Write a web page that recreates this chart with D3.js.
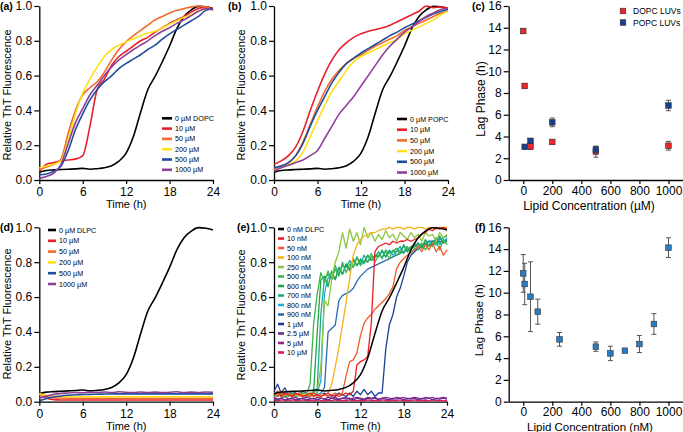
<!DOCTYPE html>
<html><head><meta charset="utf-8">
<script src="https://cdn.jsdelivr.net/npm/d3@7"></script>
<style>
body{margin:0;background:#fff}
text{font-family:Arial,"Liberation Sans",Helvetica,sans-serif;fill:#000}
</style>
</head><body>
<svg id="chart" width="683" height="432"></svg>
<script>
// ---------------- DATA ----------------
const hours = [0,1,2,3,4,5,6,7,8,9,10,11,12,13,14,15,16,17,18,19,20,21,22,23,24];
const halfHours = [0,0.5,1,1.5,2,2.5,3,3.5,4,4.5,5,5.5,6,6.5,7,7.5,8,8.5,9,9.5,10,10.5,11,11.5,12,12.5,13,13.5,14,14.5,15,15.5,16,16.5,17,17.5,18,18.5,19,19.5,20,20.5,21,21.5,22,22.5,23,23.5,24];
const timeTicks = [0,6,12,18,24];
const fluorTicks = [0,0.2,0.4,0.6,0.8,1.0];
const lagTicks = [0,2,4,6,8,10,12,14,16];
const concTicks = [0,200,400,600,800,1000];

// control (no lipid), shared by all ThT panels
const control = [0.045,0.055,0.058,0.06,0.062,0.064,0.067,0.062,0.065,0.07,0.082,0.108,0.155,0.25,0.39,0.52,0.595,0.68,0.77,0.87,0.94,0.978,0.998,0.995,0.985];

// (a) DOPC
const dopcLabels = ["0 µM DOPC","10 µM","50 µM","200 µM","500 µM","1000 µM"];
const dopc10   = [0.05,0.09,0.10,0.11,0.115,0.12,0.14,0.31,0.52,0.58,0.66,0.71,0.74,0.77,0.80,0.82,0.85,0.875,0.90,0.92,0.94,0.965,0.985,0.995,0.98];
const dopc50   = [0.06,0.075,0.09,0.12,0.27,0.40,0.49,0.53,0.565,0.62,0.69,0.75,0.795,0.83,0.86,0.89,0.92,0.94,0.96,0.975,0.985,0.995,1.0,0.995,0.975];
const dopc200  = [0.07,0.08,0.09,0.11,0.23,0.38,0.50,0.58,0.65,0.71,0.75,0.775,0.795,0.81,0.83,0.845,0.855,0.875,0.895,0.915,0.935,0.95,0.97,0.98,0.985];
const dopc500  = [0.03,0.035,0.05,0.08,0.17,0.29,0.38,0.46,0.52,0.565,0.60,0.64,0.67,0.695,0.72,0.75,0.775,0.81,0.84,0.865,0.89,0.915,0.94,0.975,0.985];
const dopc1000 = [0.01,0.02,0.04,0.09,0.21,0.33,0.41,0.49,0.545,0.60,0.65,0.69,0.72,0.75,0.775,0.80,0.83,0.855,0.875,0.90,0.92,0.945,0.97,0.985,0.98];

// (b) POPC
const popcLabels = ["0 µM POPC","10 µM","50 µM","200 µM","500 µM","1000 µM"];
const popc10   = [0.09,0.11,0.14,0.19,0.28,0.40,0.51,0.61,0.69,0.75,0.79,0.82,0.84,0.855,0.865,0.875,0.89,0.91,0.93,0.95,0.97,1.0,0.99,0.995,0.985];
const popc50   = [0.06,0.08,0.10,0.14,0.22,0.32,0.42,0.51,0.58,0.63,0.67,0.70,0.72,0.745,0.77,0.79,0.81,0.83,0.86,0.88,0.90,0.92,0.94,0.96,0.97];
const popc200  = [0.07,0.08,0.09,0.11,0.16,0.25,0.34,0.43,0.51,0.57,0.63,0.68,0.71,0.73,0.75,0.77,0.79,0.81,0.84,0.86,0.88,0.90,0.92,0.95,0.97];
const popc500  = [0.07,0.08,0.10,0.14,0.21,0.31,0.40,0.48,0.56,0.62,0.67,0.70,0.73,0.755,0.78,0.805,0.83,0.85,0.875,0.895,0.915,0.935,0.955,0.97,0.98];
const popc1000 = [0.05,0.07,0.085,0.10,0.115,0.14,0.17,0.24,0.31,0.38,0.43,0.48,0.54,0.60,0.66,0.72,0.77,0.81,0.85,0.88,0.91,0.94,0.96,0.98,0.985];

// (c) lag phase vs DOPC / POPC LUVs (µM)
const dopcConc = [0,10,50,200,500,1000];
const dopcLag  = [13.7,8.65,3.1,3.5,2.6,3.15];
const dopcErr  = [0.2,0.2,0.3,0.2,0.5,0.4];
const popcConc = [10,50,200,500,1000];
const popcLag  = [3.05,3.6,5.3,2.8,6.85];
const popcErr  = [0.2,0.2,0.4,0.3,0.48];

// (d) DLPC µM
const dlpcLabels = ["0 µM DLPC","10 µM","50 µM","200 µM","500 µM","1000 µM"];
const dlpc10   = [0.05,0.02,0.012,0.01,0.01,0.01,0.01,0.01,0.01,0.01,0.01,0.01,0.01,0.01,0.01,0.01,0.01,0.01,0.01,0.01,0.01,0.01,0.01,0.01,0.01];
const dlpc50   = [0.04,0.028,0.023,0.021,0.02,0.02,0.02,0.02,0.02,0.02,0.02,0.02,0.02,0.02,0.02,0.02,0.02,0.02,0.02,0.02,0.02,0.02,0.02,0.02,0.02];
const dlpc200  = [0.045,0.036,0.032,0.03,0.029,0.028,0.028,0.028,0.028,0.028,0.028,0.028,0.028,0.028,0.028,0.028,0.028,0.028,0.028,0.028,0.028,0.028,0.028,0.028,0.028];
const dlpc500  = [0.005,0.018,0.027,0.033,0.037,0.04,0.041,0.042,0.043,0.044,0.045,0.045,0.045,0.045,0.045,0.045,0.045,0.045,0.045,0.045,0.045,0.045,0.045,0.045,0.045];
const dlpc1000 = [0.02,0.032,0.042,0.048,0.05,0.053,0.051,0.055,0.053,0.056,0.052,0.057,0.054,0.053,0.056,0.052,0.055,0.053,0.054,0.057,0.052,0.055,0.053,0.056,0.054];

// (e) DLPC nM (half-hour sampling)
const nmLabels = ["0 nM DLPC","10 nM","50 nM","100 nM","250 nM","500 nM","600 nM","700 nM","800 nM","900 nM","1 µM","2.5 µM","5 µM","10 µM"];
const nm10   = [0.04,0.06,0.03,0.05,0.04,0.03,0.05,0.04,0.03,0.04,0.05,0.03,0.04,0.03,0.04,0.05,0.03,0.04,0.03,0.04,0.05,0.04,0.06,0.21,0.23,0.24,0.26,0.45,0.86,0.89,0.90,0.91,0.90,0.92,0.91,0.92,0.92,0.93,0.92,0.93,0.94,0.96,0.97,0.99,0.98,1.0,0.99,1.0,0.99];
const nm50   = [0.05,0.03,0.06,0.04,0.05,0.03,0.04,0.05,0.03,0.04,0.03,0.05,0.04,0.03,0.04,0.03,0.04,0.05,0.04,0.05,0.15,0.23,0.24,0.28,0.38,0.45,0.48,0.50,0.53,0.55,0.57,0.59,0.62,0.66,0.76,0.80,0.82,0.84,0.86,0.87,0.89,0.86,0.90,0.87,0.91,0.86,0.89,0.84,0.87];
const nm100  = [0.04,0.05,0.03,0.04,0.04,0.03,0.04,0.03,0.04,0.04,0.03,0.04,0.03,0.04,0.04,0.05,0.10,0.20,0.31,0.44,0.57,0.71,0.84,0.90,0.93,0.95,0.96,0.97,0.97,0.98,0.99,0.99,1.0,0.99,1.0,1.0,0.99,1.0,1.0,0.99,1.0,1.0,0.99,1.0,1.0,0.99,1.0,1.0,1.0];
const nm250  = [0.05,0.04,0.06,0.04,0.05,0.03,0.04,0.05,0.04,0.05,0.04,0.05,0.06,0.20,0.58,0.55,0.70,0.80,0.86,0.97,0.88,0.99,0.92,0.97,0.90,1.0,0.94,0.97,0.92,0.96,0.93,0.98,0.94,0.96,0.92,0.97,0.95,0.93,0.97,0.94,0.96,0.92,0.97,0.95,0.96,0.92,0.97,0.94,0.96];
const nm500  = [0.03,0.05,0.03,0.04,0.03,0.05,0.03,0.04,0.05,0.04,0.10,0.45,0.62,0.74,0.68,0.75,0.70,0.76,0.72,0.80,0.74,0.79,0.77,0.83,0.78,0.81,0.80,0.85,0.80,0.84,0.83,0.86,0.82,0.87,0.84,0.86,0.86,0.89,0.85,0.88,0.88,0.91,0.87,0.90,0.89,0.92,0.87,0.93,0.90];
const nm600  = [0.04,0.03,0.05,0.03,0.04,0.04,0.03,0.05,0.04,0.03,0.04,0.06,0.40,0.70,0.72,0.66,0.75,0.70,0.77,0.73,0.79,0.76,0.82,0.78,0.81,0.80,0.84,0.81,0.84,0.83,0.87,0.83,0.86,0.86,0.88,0.85,0.90,0.86,0.89,0.89,0.91,0.88,0.93,0.89,0.92,0.91,0.95,0.91,0.93];
const nm700  = [0.03,0.05,0.04,0.03,0.05,0.04,0.03,0.04,0.05,0.03,0.04,0.05,0.08,0.50,0.71,0.73,0.70,0.78,0.73,0.78,0.77,0.81,0.77,0.83,0.79,0.84,0.80,0.83,0.83,0.86,0.82,0.87,0.85,0.86,0.86,0.89,0.85,0.88,0.88,0.91,0.87,0.90,0.90,0.92,0.89,0.94,0.90,0.93,0.92];
const nm800  = [0.04,0.03,0.05,0.04,0.03,0.05,0.04,0.03,0.04,0.05,0.03,0.04,0.05,0.12,0.62,0.71,0.72,0.70,0.77,0.73,0.79,0.75,0.81,0.78,0.82,0.79,0.84,0.81,0.83,0.84,0.86,0.83,0.87,0.84,0.86,0.87,0.89,0.86,0.88,0.89,0.91,0.88,0.90,0.92,0.91,0.90,0.94,0.91,0.94];
const nm900  = [0.05,0.04,0.03,0.05,0.04,0.03,0.04,0.05,0.04,0.03,0.04,0.05,0.04,0.05,0.08,0.40,0.42,0.44,0.58,0.61,0.62,0.63,0.65,0.69,0.72,0.74,0.76,0.77,0.78,0.79,0.80,0.81,0.82,0.83,0.84,0.85,0.86,0.87,0.88,0.89,0.90,0.90,0.91,0.92,0.92,0.93,0.93,0.94,0.95];
const nm1000 = [0.06,0.10,0.05,0.08,0.04,0.06,0.05,0.04,0.06,0.05,0.04,0.05,0.03,0.04,0.05,0.03,0.04,0.03,0.05,0.04,0.03,0.05,0.03,0.06,0.04,0.07,0.04,0.06,0.03,0.05,0.05,0.30,0.44,0.50,0.60,0.65,0.72,0.80,0.84,0.86,0.88,0.89,0.90,0.90,0.91,0.90,0.92,0.91,0.92];
const nm2500 = [0.02,0.01,0.02,0.01,0.015,0.02,0.01,0.015,0.02,0.01,0.015,0.02,0.01,0.02,0.015,0.01,0.02,0.015,0.01,0.02,0.015,0.02,0.01,0.02,0.015,0.01,0.02,0.015,0.02,0.01,0.02,0.015,0.01,0.02,0.015,0.02,0.01,0.02,0.015,0.02,0.01,0.02,0.015,0.02,0.01,0.02,0.015,0.02,0.015];
const nm5000 = [0.025,0.015,0.02,0.03,0.015,0.02,0.025,0.015,0.02,0.025,0.02,0.015,0.025,0.02,0.015,0.025,0.02,0.025,0.015,0.02,0.025,0.015,0.02,0.025,0.02,0.015,0.025,0.02,0.025,0.015,0.02,0.025,0.02,0.015,0.025,0.02,0.025,0.015,0.02,0.025,0.02,0.015,0.025,0.02,0.025,0.015,0.02,0.025,0.02];
const nm10000= [0.01,0.005,0.01,0.008,0.005,0.01,0.007,0.005,0.01,0.006,0.008,0.005,0.01,0.007,0.005,0.009,0.006,0.01,0.005,0.008,0.006,0.01,0.005,0.008,0.007,0.005,0.01,0.006,0.008,0.005,0.01,0.007,0.005,0.009,0.006,0.01,0.005,0.008,0.006,0.01,0.005,0.008,0.007,0.005,0.01,0.006,0.008,0.005,0.007];

// (f) lag phase vs DLPC (nM)
const fConc = [0,10,50,100,250,500,600,700,800,900,1000];
const fLag  = [11.77,10.8,9.63,8.26,5.72,5.05,4.43,4.68,5.29,7.13,14.13];
const fErr  = [1.73,1.9,3.2,1.15,0.63,0.43,0.66,0.15,0.78,0.95,0.9];

// ---------------- STYLE ----------------
const lipidColors = ["#000000","#e8202a","#f26b2a","#ffdf1a","#1f4e9c","#8e3f98"];
const nmColors = ["#000000","#ec1c24","#f15a29","#f5b21c","#8dc63f","#3cb54a","#1fa64a","#1cab8e","#29aae1","#2b6cb0","#1c3f95","#662d91","#93278f","#d91c5c"];

const svg = d3.select("#chart");

function makePanel(cfg){
  const x = d3.scaleLinear().domain(cfg.xDomain).range([cfg.left, cfg.right]);
  const y = d3.scaleLinear().domain(cfg.yDomain).range([cfg.bottom, cfg.top]);
  const g = svg.append("g");
  const xa = g.append("g").attr("transform",`translate(0,${cfg.bottom})`)
    .call(d3.axisBottom(x).tickValues(cfg.xTicks).tickFormat(d3.format("d")).tickSize(4)
      .tickPadding(cfg.xPad!==undefined?cfg.xPad:3.5).tickSizeOuter(0));
  const ya = g.append("g").attr("transform",`translate(${cfg.left},0)`)
    .call(d3.axisLeft(y).tickValues(cfg.yTicks).tickFormat(cfg.yFormat).tickSize(5).tickPadding(2).tickSizeOuter(0));
  [xa,ya].forEach(a=>{
    a.select(".domain").attr("stroke","#000").attr("stroke-width",1.3);
    a.selectAll(".tick line").attr("stroke","#000").attr("stroke-width",1.2);
    a.selectAll(".tick text").attr("font-size",12).attr("font-family","Arial, 'Liberation Sans', sans-serif").attr("fill","#000");
  });
  g.append("text").attr("x",(cfg.xTitleX!==undefined?cfg.xTitleX:(cfg.left+cfg.right)/2)).attr("y",cfg.xTitleY)
    .attr("text-anchor","middle").attr("font-size",cfg.titleFont||11).text(cfg.xTitle);
  g.append("text").attr("transform",`translate(${cfg.yTitleX},${cfg.yTitleY}) rotate(-90)`)
    .attr("text-anchor","middle").attr("font-size",cfg.titleFont||11).text(cfg.yTitle);
  g.append("text").attr("x",cfg.labX).attr("y",cfg.labY).attr("font-size",10.5).attr("font-weight","bold").text(cfg.label);
  return {x,y,g};
}

function drawLines(p, times, series, colors, curve, width, order){
  (order||series.map((s,i)=>i)).forEach(i=>{
    const t = Array.isArray(times[0]) ? times[i] : times;
    const ln = d3.line().x((d,k)=>p.x(t[k])).y(d=>p.y(d)).curve(curve);
    p.g.append("path").datum(series[i]).attr("d",ln).attr("fill","none")
      .attr("stroke",colors[i]).attr("stroke-width",width).attr("stroke-linejoin","round");
  });
}

function legend(p, labels, colors, x0, y0, step, sw, font){
  labels.forEach((lb,i)=>{
    const yy = y0 + i*step;
    p.g.append("line").attr("x1",x0).attr("x2",x0+sw).attr("y1",yy).attr("y2",yy)
      .attr("stroke",colors[i]).attr("stroke-width",2.6);
    p.g.append("text").attr("x",x0+sw+3).attr("y",yy+2.5).attr("font-size",font).attr("fill","#222").text(lb);
  });
}

function scatter(p, xs, ys, es, fill){
  xs.forEach((xv,i)=>{
    const cx = p.x(xv);
    const t = p.y(ys[i]+es[i]), b = p.y(ys[i]-es[i]);
    p.g.append("line").attr("x1",cx).attr("x2",cx).attr("y1",t).attr("y2",b).attr("stroke","#555").attr("stroke-width",1);
    [t,b].forEach(v=>p.g.append("line").attr("x1",cx-2.5).attr("x2",cx+2.5).attr("y1",v).attr("y2",v).attr("stroke","#555").attr("stroke-width",1));
  });
  xs.forEach((xv,i)=>{
    const cx = p.x(xv), cy = p.y(ys[i]);
    p.g.append("rect").attr("x",cx-2.8).attr("y",cy-2.8).attr("width",5.6).attr("height",5.6)
      .attr("fill",fill).attr("stroke","#333").attr("stroke-width",0.6);
  });
}

const fmt1 = d3.format(".1f");
const fmt0 = d3.format("d");

// (a)
const pa = makePanel({left:39.3,right:213,top:6,bottom:180,xDomain:[0,24],yDomain:[0,1],xTicks:timeTicks,yTicks:fluorTicks,yFormat:fmt1,
  xTitle:"Time (h)",xTitleY:207.5,yTitle:"Relative ThT Fluorescence",yTitleX:11,yTitleY:95,label:"(a)",labX:0,labY:10});
drawLines(pa, hours, [control,dopc10,dopc50,dopc200,dopc500,dopc1000], lipidColors, d3.curveMonotoneX, 1.6);
legend(pa, dopcLabels, lipidColors, 162, 118.3, 10.3, 10, 7.2);

// (b)
const pb = makePanel({left:274,right:448,top:6,bottom:180,xDomain:[0,24],yDomain:[0,1],xTicks:timeTicks,yTicks:fluorTicks,yFormat:fmt1,
  xTitle:"Time (h)",xTitleY:207.5,yTitle:"Relative ThT Fluorescence",yTitleX:245,yTitleY:95,label:"(b)",labX:228,labY:10});
drawLines(pb, hours, [control,popc10,popc50,popc200,popc500,popc1000], lipidColors, d3.curveMonotoneX, 1.6);
legend(pb, popcLabels, lipidColors, 397, 119, 10.7, 10, 7.2);

// (c)
const pc = makePanel({left:508.7,right:683,top:6,bottom:180,xDomain:[-100,1100],yDomain:[0,16],xTicks:concTicks,yTicks:lagTicks,yFormat:fmt0,xPad:2.5,
  xTitle:"Lipid Concentration (µM)",xTitleX:589,xTitleY:209.5,yTitle:"Lag Phase (h)",yTitleX:485,yTitleY:99,label:"(c)",labX:472,labY:10,titleFont:12});
scatter(pc, dopcConc, dopcLag, dopcErr, "#e8262e");
scatter(pc, popcConc, popcLag, popcErr, "#1b3f8f");
[["DOPC LUVs","#e8262e",11],["POPC LUVs","#1b3f8f",22.5]].forEach(([t,c,yy])=>{
  pc.g.append("rect").attr("x",620.2).attr("y",yy-2.8).attr("width",5.6).attr("height",5.6).attr("fill",c).attr("stroke","#333").attr("stroke-width",0.6);
  pc.g.append("text").attr("x",633).attr("y",yy+3).attr("font-size",8.5).attr("fill","#222").text(t);
});

// (d)
const pd = makePanel({left:39.3,right:213,top:227.3,bottom:401.7,xDomain:[0,24],yDomain:[0,1],xTicks:timeTicks,yTicks:fluorTicks,yFormat:fmt1,
  xTitle:"Time (h)",xTitleY:429.5,yTitle:"Relative ThT Fluorescence",yTitleX:11,yTitleY:314,label:"(d)",labX:0,labY:231});
drawLines(pd, hours, [control,dlpc10,dlpc50,dlpc200,dlpc500,dlpc1000], lipidColors, d3.curveMonotoneX, 1.6);
legend(pd, dlpcLabels, lipidColors, 48, 230, 10.8, 8, 7.2);

// (e)
const pe = makePanel({left:274,right:447,top:227.3,bottom:401.7,xDomain:[0,24],yDomain:[0,1],xTicks:timeTicks,yTicks:fluorTicks,yFormat:fmt1,
  xTitle:"Time (h)",xTitleY:429.5,yTitle:"Relative ThT Fluorescence",yTitleX:245,yTitleY:315,label:"(e)",labX:237,labY:231});
const eSeries = [control,nm10,nm50,nm100,nm250,nm500,nm600,nm700,nm800,nm900,nm1000,nm2500,nm5000,nm10000];
const eTimes = eSeries.map((s,i)=> i===0 ? hours : halfHours);
drawLines(pe, eTimes, eSeries, nmColors, d3.curveLinear, 1.3, [13,12,11,10,9,8,7,6,5,4,3,2,1]);
drawLines(pe, eTimes, eSeries, nmColors, d3.curveMonotoneX, 1.5, [0]);
legend(pe, nmLabels, nmColors, 278, 229, 9.5, 6, 7.2);

// (f)
const pf = makePanel({left:508.7,right:683,top:227.3,bottom:401.7,xDomain:[-100,1100],yDomain:[0,16],xTicks:concTicks,yTicks:lagTicks,yFormat:fmt0,xPad:1.5,
  xTitle:"Lipid Concentration (nM)",xTitleX:590,xTitleY:430.5,yTitle:"Lag Phase (h)",yTitleX:483,yTitleY:320,label:"(f)",labX:475,labY:231,titleFont:11.5});
scatter(pf, fConc, fLag, fErr, "#2a7cc0");
</script>
</body></html>
